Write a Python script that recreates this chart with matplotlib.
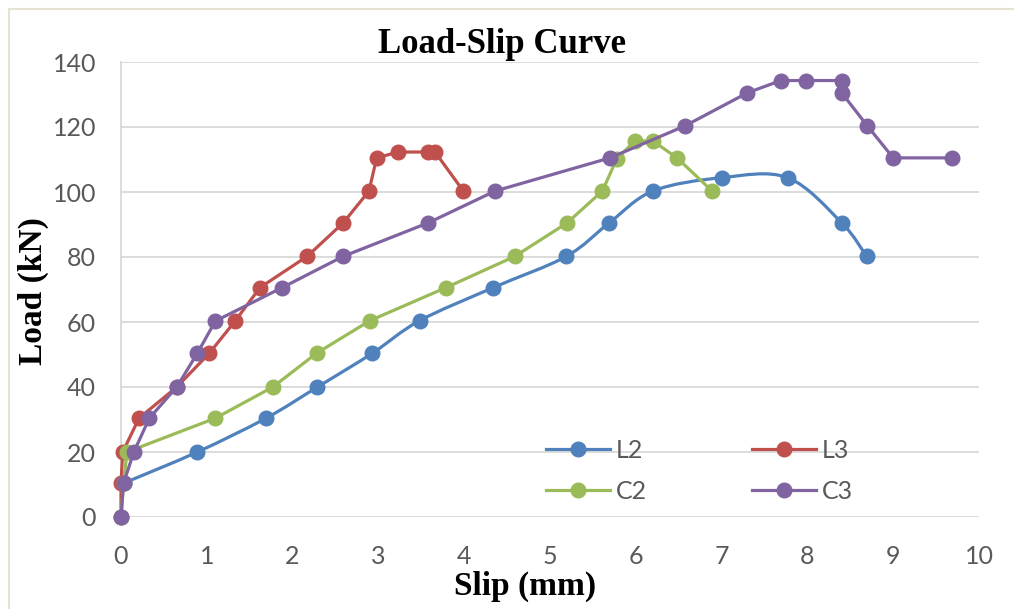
"""
Load-Slip curve (L2, L3, C2, C3) - recriação do gráfico do Excel
"""

import numpy as np
import matplotlib
matplotlib.use("Agg")
import matplotlib.pyplot as plt
from matplotlib.path import Path
from matplotlib.patches import PathPatch, Rectangle
from matplotlib.lines import Line2D

# Dados (slip em mm, carga em kN)
l2_slip = [0.03, 0.89, 1.69, 2.29, 2.93, 3.48, 4.34, 5.19, 5.69, 6.20, 7.00, 7.77, 8.40, 8.69]
l2_load = [10.4, 20, 30.4, 40, 50.4, 60.4, 70.6, 80.2, 90.5, 100.3, 104.4, 104.4, 90.5, 80.2]

l3_slip = [0, 0.0, 0.02, 0.21, 0.65, 1.03, 1.33, 1.62, 2.17, 2.59, 2.89, 2.98, 3.23, 3.58, 3.66, 3.99]
l3_load = [0, 10.4, 20, 30.4, 40, 50.4, 60.3, 70.6, 80.2, 90.5, 100.3, 110.5, 112.3, 112.3, 112.3, 100.3]

c2_slip = [0, 0.03, 0.07, 1.10, 1.77, 2.28, 2.90, 3.79, 4.59, 5.20, 5.61, 5.78, 5.99, 6.20, 6.48, 6.89]
c2_load = [0, 10.4, 20, 30.4, 40, 50.4, 60.4, 70.6, 80.2, 90.5, 100.3, 110.3, 115.7, 115.7, 110.5, 100.3]

c3_slip = [0, 0.03, 0.15, 0.33, 0.65, 0.89, 1.10, 1.88, 2.59, 3.58, 4.36, 5.70, 6.57, 7.30,
           7.69, 7.98, 8.40, 8.40, 8.70, 9.00, 9.69]
c3_load = [0, 10.4, 20, 30.4, 40, 50.4, 60.3, 70.6, 80.2, 90.5, 100.3, 110.5, 120.3, 130.5,
           134.3, 134.3, 134.3, 130.5, 120.3, 110.5, 110.5]

x_ticks = list(range(0, 11))
y_ticks = list(range(0, 141, 20))

COR_L2 = '#4F81BD'
COR_L3 = '#C0504D'
COR_C2 = '#9BBB59'
COR_C3 = '#8064A2'
COR_TEXTO = '#595959'
COR_GRADE = '#D9D9D9'

SERIF = 'Liberation Serif'
SANS = 'Lato'


def caminho_suave(xs, ys):
    """Curva suavizada (estilo Excel) passando pelos pontos, como Path de Bezier"""
    p = np.column_stack([xs, ys]).astype(float)
    n = len(p)
    verts = [p[0]]
    codes = [Path.MOVETO]
    for i in range(n - 1):
        p0 = p[i - 1] if i > 0 else p[i]
        p1 = p[i]
        p2 = p[i + 1]
        p3 = p[i + 2] if i + 2 < n else p[i + 1]
        c1 = p1 + (p2 - p0) / 6.0
        c2 = p2 - (p3 - p1) / 6.0
        verts += [c1, c2, p2]
        codes += [Path.CURVE4] * 3
    return Path(verts, codes)


fig = plt.figure(figsize=(10.14, 6.09), dpi=100)
W, H = 1014, 609

# moldura clara do gráfico
fig.patches.append(Rectangle((9 / W, -0.05), 1.1, 1 - 9 / H + 0.05, transform=fig.transFigure,
                             fill=False, edgecolor='#E6E2D2', linewidth=1.5))

ax = fig.add_axes([121 / W, 1 - 517 / H, (979 - 121) / W, (517 - 62) / H])
ax.set_xlim(0, 10)
ax.set_ylim(0, 140)

lw = 2.3
ms = 10.5

# L2 com linha suavizada
ax.add_patch(PathPatch(caminho_suave(l2_slip, l2_load), facecolor='none', edgecolor=COR_L2,
                       linewidth=lw, zorder=3, clip_on=False))
ax.plot(l2_slip, l2_load, linestyle='none', marker='o', markersize=ms, color=COR_L2,
        zorder=3, clip_on=False)

ax.plot(l3_slip, l3_load, color=COR_L3, linewidth=lw, marker='o', markersize=ms,
        zorder=4, clip_on=False)
ax.plot(c2_slip, c2_load, color=COR_C2, linewidth=lw, marker='o', markersize=ms,
        zorder=5, clip_on=False)
ax.plot(c3_slip, c3_load, color=COR_C3, linewidth=lw, marker='o', markersize=ms,
        zorder=6, clip_on=False)

ax.set_xticks(x_ticks)
ax.set_yticks(y_ticks)
ax.grid(True, axis='y', color=COR_GRADE, linewidth=1.3)
ax.set_axisbelow(True)
for lado in ['top', 'right', 'bottom']:
    ax.spines[lado].set_visible(False)
ax.spines['left'].set_color(COR_GRADE)
ax.spines['left'].set_linewidth(1.3)
ax.tick_params(axis='both', length=0, labelsize=18, labelcolor=COR_TEXTO)
ax.tick_params(axis='x', pad=20)
ax.tick_params(axis='y', pad=18)
for lbl in ax.get_xticklabels() + ax.get_yticklabels():
    lbl.set_fontfamily(SANS)

# legenda (duas colunas: L2 L3 / C2 C3)
handles = [Line2D([], [], color=c, linewidth=lw, marker='o', markersize=ms)
           for c in [COR_L2, COR_C2, COR_L3, COR_C3]]
leg = ax.legend(handles, ['L2', 'C2', 'L3', 'C3'], ncol=2, frameon=False,
                loc='upper left', bbox_to_anchor=(546 / W, 1 - 439 / H),
                bbox_transform=fig.transFigure, borderpad=0, borderaxespad=0,
                handlelength=2.55, handletextpad=0.25, columnspacing=4.2,
                labelspacing=0.72, prop={'family': SANS, 'size': 18})
for t in leg.get_texts():
    t.set_color(COR_TEXTO)

fig.text(502 / W, 1 - 53 / H, 'Load-Slip Curve', ha='center', va='baseline',
         fontsize=25, fontweight='bold', family=SERIF)
fig.text(525 / W, 1 - 595 / H, 'Slip (mm)', ha='center', va='baseline',
         fontsize=24, fontweight='bold', family=SERIF)
fig.text(33 / W, 1 - 291 / H, 'Load (kN)', ha='center', va='center', rotation=90,
         fontsize=24, fontweight='bold', family=SERIF)

fig.savefig('out.png', dpi=100, facecolor='white')
